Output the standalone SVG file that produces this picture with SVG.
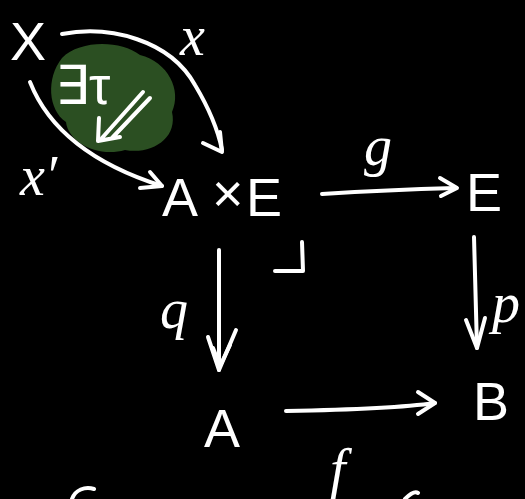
<svg xmlns="http://www.w3.org/2000/svg" width="525" height="499" viewBox="0 0 525 499">
<defs>
<style>
.bg{fill:#000}
.t{fill:#fff;font-family:"Liberation Sans","DejaVu Sans",sans-serif;font-size:54px}
.lab{fill:#fff;font-family:"Liberation Serif","DejaVu Serif",serif;font-style:italic;font-size:56px}
.s{fill:none;stroke:#fff;stroke-width:4;stroke-linecap:round;stroke-linejoin:round}
</style>
</defs>
<rect class="bg" x="0" y="0" width="525" height="499"/>
<g id="blob">
<path d="M62,58 C80,40 120,40 140,55 C168,62 182,90 172,112 C178,138 152,155 125,150 C98,158 68,142 66,122 C48,110 46,78 62,58 Z" fill="#2b4f22"/>
</g>
<g id="connectors">
<path class="s" d="M62,34 C110,25 170,40 195,85 C210,110 218,130 222,150"/>
<path class="s" d="M203,143 L222,152 L220,132"/>
<path class="s" d="M30,82 C45,120 80,160 162,186"/>
<path class="s" d="M140,188 L162,186 L150,172"/>
<path class="s" d="M322,194 C370,191 420,189 455,188"/>
<path class="s" d="M440,178 L457,188 L441,196"/>
<path class="s" d="M219,250 L219,370"/>
<path class="s" d="M208,337 L219,370 L236,330"/>
<path class="s" d="M213,348 L220,366 L230,345"/>
<path class="s" d="M474,237 L477,348"/>
<path class="s" d="M466,320 L477,348 L485,318"/>
<path class="s" d="M286,411 C340,410 400,408 435,403"/>
<path class="s" d="M418,392 L435,403 L418,414"/>
<path class="s" d="M275,271 L303,271 L302,242"/>
<path class="s" d="M143,92 L102,138 M150,98 L112,138 M99,118 L98,141 L120,137"/>
</g>
<g id="node-X"><text class="t" x="10" y="60" font-size="56">X</text></g>
<g id="node-AxE"><text class="t" x="162" y="216">A</text><text class="t" x="212" y="212" font-size="36">×</text><text class="t" x="246" y="216">E</text></g>
<g id="node-E"><text class="t" x="466" y="211">E</text></g>
<g id="node-A"><text class="t" x="204" y="447" font-size="60">A</text></g>
<g id="node-B"><text class="t" x="473" y="420">B</text></g>
<g id="labels">
<text class="lab" x="180" y="55">x</text>
<text class="lab" x="20" y="195" font-size="50">x′</text>
<text class="t" x="55" y="104" font-size="44">∃τ</text>
<text class="lab" x="364" y="165">g</text>
<text class="lab" x="160" y="328">q</text>
<text class="lab" x="492" y="322">p</text>
<text class="lab" x="330" y="488">f</text>
</g>
<g id="fragments">
<path class="s" d="M72,499 C75,490 85,486 94,489"/>
<path class="s" d="M405,499 C410,494 415,491 418,493"/>
</g>
</svg>
